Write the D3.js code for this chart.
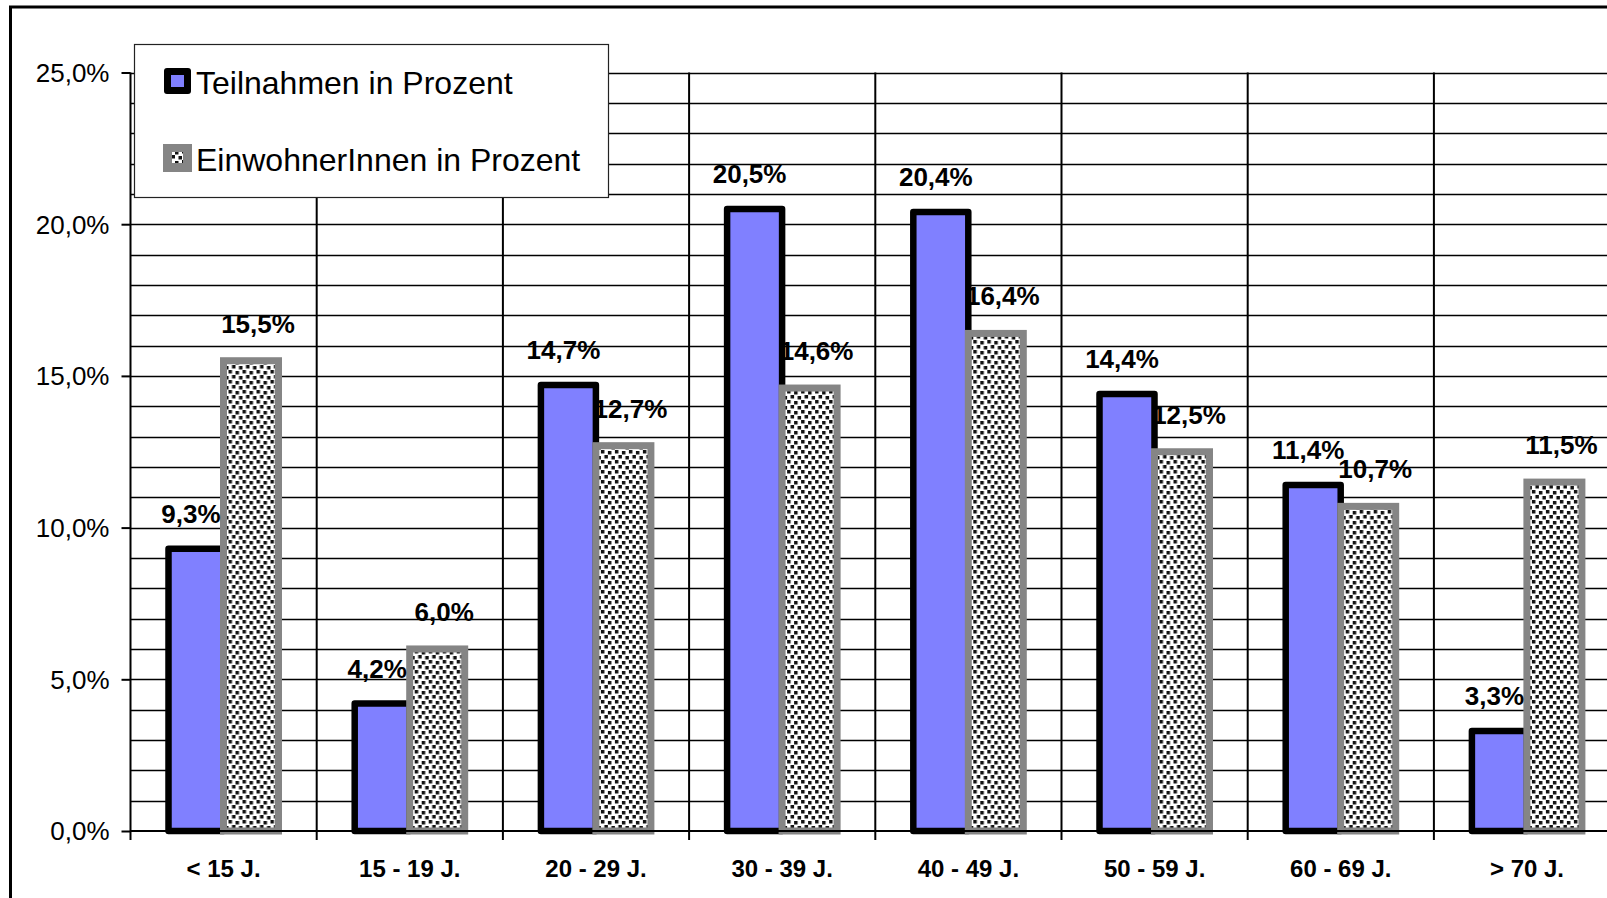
<!DOCTYPE html>
<html>
<head>
<meta charset="utf-8">
<script src="https://cdn.jsdelivr.net/npm/d3@7"></script>
<style>
  html, body { margin: 0; padding: 0; background: #fff; }
  svg { display: block; font-family: "Liberation Sans", Arial, sans-serif; }
</style>
</head>
<body>
<svg id="chart" width="1607" height="898"></svg>
<script>
const categories = ["< 15 J.", "15 - 19 J.", "20 - 29 J.", "30 - 39 J.", "40 - 49 J.", "50 - 59 J.", "60 - 69 J.", "> 70 J."];
const seriesNames = ["Teilnahmen in Prozent", "EinwohnerInnen in Prozent"];
const teilnahmen = [9.3, 4.2, 14.7, 20.5, 20.4, 14.4, 11.4, 3.3];
const einwohner = [15.5, 6.0, 12.7, 14.6, 16.4, 12.5, 10.7, 11.5];
const yTicks = [0, 5, 10, 15, 20, 25];
const yMinorTicks = d3.range(0, 26, 1);

const fmt = v => v.toFixed(1).replace(".", ",") + "%";

const svg = d3.select("#chart");
const W = 1607, H = 898;

// layout
const plotLeft = 130.5, plotBottom = 831, plotTop = 72.5;
const catW = 186.2;
const plotRight = plotLeft + catW * categories.length;

const x0 = d3.scaleBand().domain(categories).range([plotLeft, plotRight]).paddingInner(0).paddingOuter(0);
const x1 = d3.scaleBand().domain(seriesNames).range([38, 38 + 110]).padding(0);
const y = d3.scaleLinear().domain([0, 25]).range([plotBottom, plotTop]);

// defs: dotted pattern
const defs = svg.append("defs");
const pat = defs.append("pattern").attr("id", "dots").attr("patternUnits", "userSpaceOnUse")
  .attr("width", 14).attr("height", 10);
pat.append("rect").attr("width", 14).attr("height", 10).attr("fill", "#fff");
[[0,0],[7,1],[3.5,5],[10.5,6]].forEach(([px,py]) => {
  pat.append("rect").attr("x", px).attr("y", py).attr("width", 3.5).attr("height", 3.5).attr("fill", "#111");
});

// background
svg.append("rect").attr("width", W).attr("height", H).attr("fill", "#fff");

// outer chart border (extends beyond the visible area)
svg.append("rect").attr("x", 10.5).attr("y", 7).attr("width", 1700).attr("height", 1000)
  .attr("fill", "none").attr("stroke", "#000").attr("stroke-width", 3);

// horizontal gridlines (every 1%)
svg.append("g").selectAll("line").data(yMinorTicks.filter(d => d > 0)).join("line")
  .attr("x1", plotLeft).attr("x2", plotRight)
  .attr("y1", d => Math.round(y(d)) + 0.5).attr("y2", d => Math.round(y(d)) + 0.5)
  .attr("stroke", "#000").attr("stroke-width", 1.4);

// vertical gridlines at category boundaries
svg.append("g").selectAll("line").data(categories.slice(1)).join("line")
  .attr("x1", d => x0(d)).attr("x2", d => x0(d))
  .attr("y1", y(25)).attr("y2", plotBottom)
  .attr("stroke", "#000").attr("stroke-width", 2);

// bars
const groups = svg.append("g").selectAll("g").data(categories).join("g")
  .attr("transform", d => `translate(${x0(d)},0)`);

const bw = x1.bandwidth();
groups.append("rect")
  .attr("x", x1(seriesNames[0]))
  .attr("y", (d, i) => y(teilnahmen[i]))
  .attr("width", bw)
  .attr("height", (d, i) => plotBottom - y(teilnahmen[i]))
  .attr("fill", "#8080FF").attr("stroke", "#000").attr("stroke-width", 6.5)
  .attr("stroke-linejoin", "round");

groups.append("rect")
  .attr("x", x1(seriesNames[1]))
  .attr("y", (d, i) => y(einwohner[i]))
  .attr("width", bw)
  .attr("height", (d, i) => plotBottom - y(einwohner[i]))
  .attr("fill", "url(#dots)").attr("stroke", "#858585").attr("stroke-width", 7);

// axes
const yAxis = d3.axisLeft(y).tickValues(yTicks).tickFormat(fmt).tickSize(9).tickPadding(12);
const gy = svg.append("g").attr("transform", `translate(${plotLeft},0)`).call(yAxis);
gy.select(".domain").attr("stroke", "#000").attr("stroke-width", 2).attr("d", `M0,${y(25)}V${plotBottom}`);
gy.selectAll(".tick line").attr("stroke", "#000").attr("stroke-width", 2);
gy.selectAll(".tick text").attr("font-size", 26).attr("fill", "#000")
  .attr("font-family", "'Liberation Sans', Arial, sans-serif").attr("dy", "0.34em");

// x axis line
svg.append("line").attr("x1", plotLeft).attr("x2", plotRight).attr("y1", plotBottom).attr("y2", plotBottom)
  .attr("stroke", "#000").attr("stroke-width", 2);
// x ticks at category boundaries
svg.append("g").selectAll("line").data(categories).join("line")
  .attr("x1", d => x0(d)).attr("x2", d => x0(d))
  .attr("y1", plotBottom).attr("y2", plotBottom + 9)
  .attr("stroke", "#000").attr("stroke-width", 2);
// category labels
svg.append("g").selectAll("text").data(categories).join("text")
  .attr("x", d => x0(d) + x0.bandwidth() / 2)
  .attr("y", 877)
  .attr("text-anchor", "middle").attr("font-weight", "bold").attr("font-size", 24)
  .attr("fill", "#000").text(d => d);

// data labels
groups.append("text")
  .attr("x", x1(seriesNames[0]) + bw / 2 - 5)
  .attr("y", (d, i) => y(teilnahmen[i]) - 26)
  .attr("text-anchor", "middle").attr("font-weight", "bold").attr("font-size", 26)
  .text((d, i) => fmt(teilnahmen[i]));
groups.append("text")
  .attr("x", x1(seriesNames[1]) + bw / 2 + 7)
  .attr("y", (d, i) => y(einwohner[i]) - 28)
  .attr("text-anchor", "middle").attr("font-weight", "bold").attr("font-size", 26)
  .text((d, i) => fmt(einwohner[i]));

// legend
const lg = svg.append("g");
lg.append("rect").attr("x", 134.5).attr("y", 44.5).attr("width", 474).attr("height", 153)
  .attr("fill", "#fff").attr("stroke", "#222").attr("stroke-width", 1.2);
// key 1
lg.append("rect").attr("x", 164).attr("y", 68).attr("width", 27).attr("height", 26).attr("rx", 3)
  .attr("fill", "#000");
lg.append("rect").attr("x", 171).attr("y", 75).attr("width", 13).attr("height", 12).attr("fill", "#8080FF");
// key 2
lg.append("rect").attr("x", 163).attr("y", 144).attr("width", 29).attr("height", 28).attr("fill", "#858585");
lg.append("rect").attr("x", 172).attr("y", 152).attr("width", 11).attr("height", 11).attr("fill", "url(#dots)");
lg.selectAll("text.leg").data(seriesNames).join("text").attr("class", "leg")
  .attr("x", 196)
  .attr("y", (d, i) => i === 0 ? 94 : 171)
  .attr("font-size", 32).attr("fill", "#000").text(d => d);
</script>
</body>
</html>
